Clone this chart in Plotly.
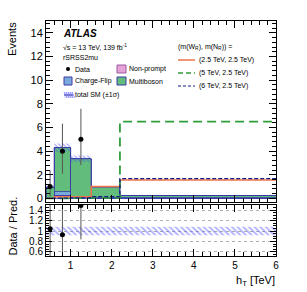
import plotly.graph_objects as go
import numpy as np

# ---------------- data ----------------
bin_edges = [0.4, 0.6, 1.0, 1.5, 2.2, 6.0]
nonprompt = [0.03, 0.25, 0.05, 0.02, 0.02]
chargeflip = [0.03, 0.32, 0.08, 0.05, 0.03]
multiboson = [0.90, 3.73, 3.23, 0.90, 0.20]
sm_rel_unc = [0.08, 0.08, 0.08, 0.08, 0.08]
sig_25_25 = [0.02, 0.15, 0.15, 1.00, 1.55]
sig_5_25 = [0.00, 0.00, 0.02, 0.05, 6.50]
sig_6_25 = [0.00, 0.02, 0.05, 0.15, 1.67]
data_x_bins = [0, 1, 2]
data_vals = [1, 4, 5]
data_err_up = [1.36, 2.32, 2.58]
data_err_dn = [0.83, 1.91, 2.18]

# ---------------- geometry helpers ----------------
W, H = 307, 292
L, R, T, B = 46, 276, 21, 256
def px(x):
    return (x - L) / (R - L)
def py(y):
    return (B - y) / (B - T)

edges = np.array(bin_edges)
centers = (edges[:-1] + edges[1:]) / 2
widths = edges[1:] - edges[:-1]
total = np.array(nonprompt) + np.array(chargeflip) + np.array(multiboson)
unc = total * np.array(sm_rel_unc)

fig = go.Figure()

line_blue = "#3a3aa8"
# stack
for vals, col, name in [(nonprompt, "#e6a3d8", "Non-prompt"),
                        (chargeflip, "#7aaadc", "Charge-Flip"),
                        (multiboson, "#62bd7c", "Multiboson")]:
    fig.add_trace(go.Bar(x=centers, y=vals, width=widths, marker=dict(color=col, line=dict(color=line_blue, width=0.8)),
                         xaxis="x", yaxis="y", showlegend=False, hoverinfo="skip"))

def step_poly(lo, hi):
    xs, ys = [], []
    for i in range(len(lo)):
        xs += [edges[i], edges[i + 1]]
        ys += [hi[i], hi[i]]
    for i in reversed(range(len(lo))):
        xs += [edges[i + 1], edges[i]]
        ys += [lo[i], lo[i]]
    xs.append(xs[0]); ys.append(ys[0])
    return xs, ys

hatch = dict(shape="\\", fgcolor="#4a4aff", bgcolor="rgba(0,0,0,0)", size=3, solidity=0.4)
bx, by = step_poly(total - unc, total + unc)
fig.add_trace(go.Scatter(x=bx, y=by, fill="toself", mode="lines", line=dict(width=0, color=line_blue),
                         fillpattern=hatch, fillcolor="rgba(0,0,0,0)", xaxis="x", yaxis="y", showlegend=False))
# outline of stack top
fig.add_trace(go.Scatter(x=list(edges), y=list(total) + [total[-1]], mode="lines", line=dict(color=line_blue, width=1, shape="hv"),
                         xaxis="x", yaxis="y", showlegend=False))

# signals
for vals, col, dash, wd in [(sig_25_25, "#ee7548", "solid", 1.5), (sig_5_25, "#2e9e3a", "9px,5px", 1.8),
                            (sig_6_25, "#18188a", "4px,2px", 1.3)]:
    fig.add_trace(go.Scatter(x=list(edges), y=list(vals) + [vals[-1]], mode="lines",
                             line=dict(color=col, width=wd, dash=dash, shape="hv"),
                             xaxis="x", yaxis="y", showlegend=False))

# data
dx = [centers[i] for i in data_x_bins]
fig.add_trace(go.Scatter(x=dx, y=data_vals, mode="markers", marker=dict(color="black", size=5),
                         error_y=dict(type="data", array=data_err_up, arrayminus=data_err_dn, color="#555", thickness=1, width=0),
                         xaxis="x", yaxis="y", showlegend=False))

# ratio panel
rx, ry = step_poly(1 - np.array(sm_rel_unc), 1 + np.array(sm_rel_unc))
fig.add_trace(go.Scatter(x=rx, y=ry, fill="toself", mode="lines", line=dict(width=0),
                         fillpattern=dict(shape="\\", fgcolor="#5a5aff", bgcolor="rgba(0,0,0,0)", size=4, solidity=0.45),
                         fillcolor="rgba(0,0,0,0)", xaxis="x2", yaxis="y2", showlegend=False))
pred = np.array([total[i] for i in data_x_bins])
ratio = np.array(data_vals) / pred
fig.add_trace(go.Scatter(x=dx, y=ratio, mode="markers", marker=dict(color="black", size=5),
                         error_y=dict(type="data", array=np.array(data_err_up) / pred, arrayminus=np.array(data_err_dn) / pred,
                                      color="#555", thickness=1, width=0),
                         xaxis="x2", yaxis="y2", showlegend=False))

font = "Liberation Sans, Arial, sans-serif"
axis_common = dict(showline=True, linecolor="black", linewidth=1, mirror="allticks", ticks="inside",
                   tickcolor="black", zeroline=False, showgrid=False, automargin=False,
                   tickfont=dict(size=11, color="black", family=font))

fig.update_layout(
    width=W, height=H, margin=dict(l=L, r=W - R, t=T, b=H - B),
    plot_bgcolor="white", paper_bgcolor="white", barmode="stack", bargap=0,
    font=dict(family=font, color="black"),
    xaxis=dict(**axis_common, range=[0.4, 6.0], anchor="y", showticklabels=False, dtick=1, tick0=0, ticklen=7,
               minor=dict(ticks="inside", ticklen=4, dtick=0.2, tick0=0, tickcolor="black")),
    yaxis=dict(**axis_common, domain=[(B - 202) / (B - T), 1], range=[-0.3, 15.0], dtick=2, ticklen=7,
               minor=dict(ticks="inside", ticklen=4, dtick=0.4, tickcolor="black")),
    xaxis2=dict(**{**axis_common, "tickfont": dict(size=10, color="black", family=font)},
                range=[0.4, 6.0], anchor="y2", matches="x", dtick=1, tick0=0, ticklen=7,
                minor=dict(ticks="inside", ticklen=4, dtick=0.2, tick0=0, tickcolor="black")),
    yaxis2=dict(**{**axis_common, "showgrid": True, "tickfont": dict(size=10, color="black", family=font)},
                domain=[0, (B - 205) / (B - T)], range=[0.52, 1.5],
                tickvals=[0.6, 0.8, 1.0, 1.2, 1.4], ticktext=["0.6", "0.8", "1", "1.2", "1.4"], ticklen=6,
                gridcolor="#b0b0b0", griddash="dot", gridwidth=1,
                minor=dict(ticks="inside", ticklen=3, dtick=0.05, tickcolor="black")),
)

ann = []
def text(x, y, s, size=7.5, xanchor="left", yanchor="middle", angle=0):
    ann.append(dict(x=px(x), y=py(y), xref="paper", yref="paper", text=s, showarrow=False,
                    xanchor=xanchor, yanchor=yanchor, textangle=angle, font=dict(size=size, color="black", family=font)))

text(12, 20, "Events", size=11, xanchor="center", yanchor="top", angle=-90)
text(12, 258, "Data / Pred.", size=11, xanchor="center", yanchor="bottom", angle=-90)
text(277, 281, "h<sub>T</sub> [TeV]", size=11, xanchor="right")
text(61, 34, "<b><i>ATLAS</i></b>", size=10)
text(61, 47, "√s = 13 TeV, 139 fb<sup>-1</sup>", size=7)
text(61, 57, "rSRSS2mu", size=7)
text(73, 69, "Data", size=7)
text(127, 69, "Non-prompt", size=7)
text(73, 81, "Charge-Flip", size=7)
text(127, 81, "Multiboson", size=7)
text(73, 95, "total SM (±1σ)", size=7)
text(176, 47, "(m(W<sub>R</sub>), m(N<sub>R</sub>)) =", size=7)
text(197, 60, "(2.5 TeV, 2.5 TeV)", size=7)
text(197, 73, "(5 TeV, 2.5 TeV)", size=7)
text(197, 86, "(6 TeV, 2.5 TeV)", size=7)
fig.update_layout(annotations=ann)

shapes = []
def rect(x0, y0, x1, y1, fill, line):
    shapes.append(dict(type="rect", xref="paper", yref="paper", x0=px(x0), x1=px(x1), y0=py(y0), y1=py(y1),
                       fillcolor=fill, line=dict(color=line, width=1)))
def seg(x0, y0, x1, y1, color, width=1, dash="solid"):
    shapes.append(dict(type="line", xref="paper", yref="paper", x0=px(x0), x1=px(x1), y0=py(y0), y1=py(y1),
                       line=dict(color=color, width=width, dash=dash)))
shapes.append(dict(type="circle", xref="paper", yref="paper", x0=px(66), x1=px(70), y0=py(67), y1=py(71),
                   fillcolor="black", line=dict(color="black", width=0)))
rect(117, 65, 126, 73, "#e6a3d8", "#9a5aa0")
rect(64, 77, 72, 85, "#7aaadc", line_blue)
rect(117, 77, 126, 85, "#62bd7c", line_blue)
rect(64, 92, 73, 98, "rgba(120,120,255,0.15)", "rgba(0,0,0,0)")
for k in range(5):
    seg(64 + 2 * k, 92, 64 + 2 * k + 3, 98, "#5a5aff", 0.7)
seg(64, 95, 73, 95, line_blue, 1)
seg(178, 60, 195, 60, "#ee7548", 1.5)
seg(178, 73, 195, 73, "#2e9e3a", 1.5, "5px,3px")
seg(178, 86, 195, 86, "#18188a", 1.2, "3px,2px")
fig.update_layout(shapes=shapes)

fig.write_html("out.html", config={"displayModeBar": False, "staticPlot": True},
               post_script="document.body.style.margin='0';document.body.style.padding='0';")
